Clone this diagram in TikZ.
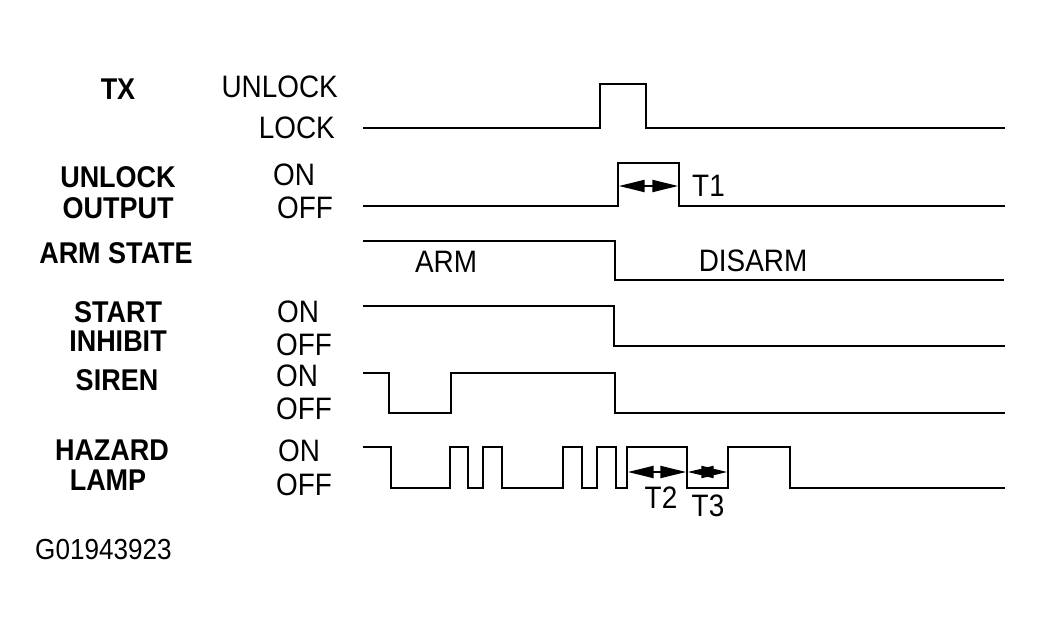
\documentclass[tikz,border=0pt]{standalone}
\usepackage{fontspec}
\setmainfont[FakeStretch=0.9]{Liberation Sans}
\usetikzlibrary{arrows.meta}
\begin{document}
\begin{tikzpicture}[x=1pt,y=-1pt,
  wave/.style={line width=2.6pt,line join=miter},
  lbl/.style={font=\fontsize{30}{32}\selectfont\bfseries,inner sep=0pt},
  st/.style={font=\fontsize{31}{33}\selectfont,inner sep=0pt},
  dim/.style={line width=1.6pt,{Triangle[length=19pt,width=9pt,scale=1.35]}-{Triangle[length=19pt,width=9pt,scale=1.35]}}]
\useasboundingbox (0,0) rectangle (1044,636);
% left labels
\node[lbl] (tx) at (118,89) {TX};
\node[lbl] (uo1) at (118,177) {UNLOCK};
\node[lbl] (uo2) at (118,208) {OUTPUT};
\node[lbl] (as) at (116,253) {ARM STATE};
\node[lbl] (si1) at (118,312) {START};
\node[lbl] (si2) at (118,341) {INHIBIT};
\node[lbl] (sr) at (117,380) {SIREN};
\node[lbl] (hl1) at (112,450) {HAZARD};
\node[lbl] (hl2) at (108,480) {LAMP};
% state labels
\node[st,anchor=east] (unl) at (338,87) {UNLOCK};
\node[st,anchor=east] (lck) at (335,128) {LOCK};
\node[st,anchor=west] (on1) at (273,175) {ON};
\node[st,anchor=west] (off1) at (277,208) {OFF};
\node[st,anchor=west] (on2) at (277,312) {ON};
\node[st,anchor=west] (off2) at (276,345) {OFF};
\node[st,anchor=west] (on3) at (276,376) {ON};
\node[st,anchor=west] (off3) at (276,409) {OFF};
\node[st,anchor=west] (on4) at (278,451) {ON};
\node[st,anchor=west] (off4) at (276,485) {OFF};
\node[st,anchor=west,font=\fontsize{29}{31}\selectfont] (gid) at (35,550) {G01943923};
% in-diagram labels
\node[st] (arm) at (446,262) {ARM};
\node[st] (disarm) at (753,261) {DISARM};
\node[st,anchor=west] (t1) at (692,186) {T1};
\node[st] (t2) at (661,498) {T2};
\node[st] (t3) at (708,506) {T3};
% waveforms
\draw[wave] (363,128) -- (600,128) -- (600,84) -- (646,84) -- (646,128) -- (1005,128);
\draw[wave] (363,206) -- (618,206) -- (618,163) -- (679,163) -- (679,206) -- (1005,206);
\draw[wave] (363,241) -- (615,241) -- (615,280) -- (1004,280);
\draw[wave] (363,306) -- (614,306) -- (614,346) -- (1005,346);
\draw[wave] (363,373) -- (389,373) -- (389,413) -- (451,413) -- (451,373) -- (615,373) -- (615,413) -- (1005,413);
\draw[wave] (363,447) -- (391,447) -- (391,488) -- (450,488) -- (450,447) -- (468,447) -- (468,488)
  -- (483,488) -- (483,447) -- (502,447) -- (502,488) -- (563,488) -- (563,447) -- (582,447)
  -- (582,488) -- (597,488) -- (597,447) -- (616,447) -- (616,488) -- (627,488) -- (627,447)
  -- (687,447) -- (687,488) -- (728,488) -- (728,447) -- (790,447) -- (790,488) -- (1005,488);
% timing arrows
\coordinate (a1) at (619,186);
\coordinate (b1) at (678,186);
\coordinate (a2) at (628,472);
\coordinate (b2) at (686,472);
\coordinate (a3) at (688,472);
\coordinate (b3) at (727,472);
\draw[dim] (a1) -- (b1);
\draw[dim] (a2) -- (b2);
\draw[dim] (a3) -- (b3);
\end{tikzpicture}
\end{document}
